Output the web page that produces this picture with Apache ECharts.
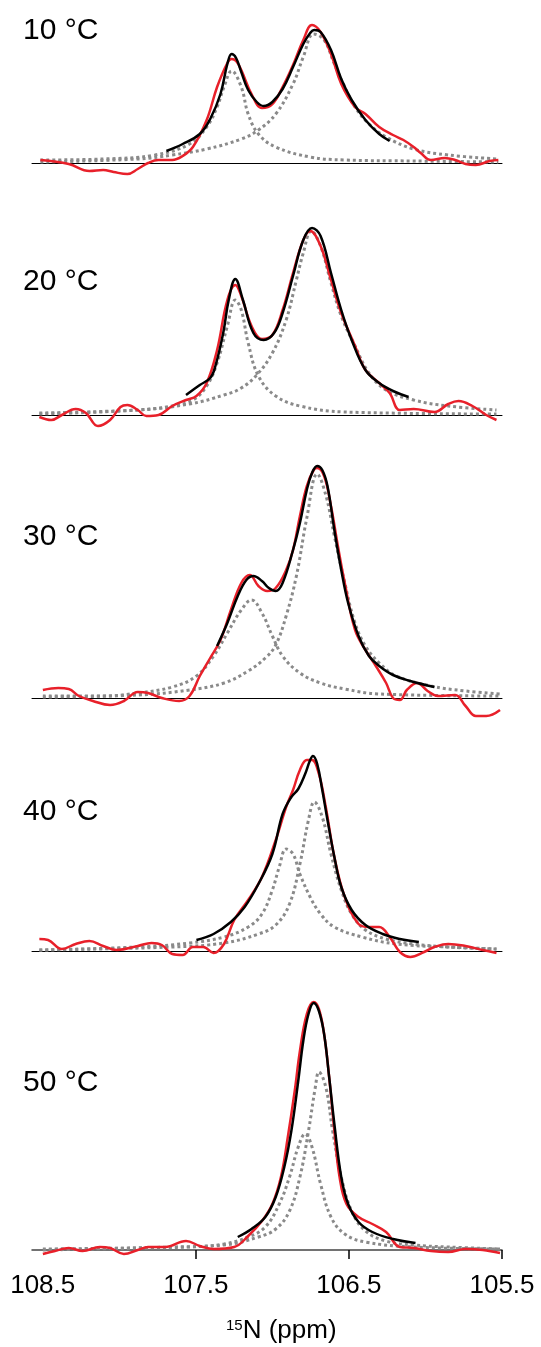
<!DOCTYPE html>
<html>
<head>
<meta charset="utf-8">
<script src="https://cdn.jsdelivr.net/npm/echarts@6/dist/echarts.min.js"></script>
<style>
  html, body { margin: 0; padding: 0; background: #fff; }
  #chart { width: 541px; height: 1347px; }
</style>
</head>
<body>
<div id="chart"></div>
<script>
// 15N spectra of one resonance at five temperatures: measured trace,
// two-Lorentzian fit and its individual components. x in ppm, y in a.u.
const temps = ['10 °C', '20 °C', '30 °C', '40 °C', '50 °C'];
const tickMarks = [107.5, 106.5, 105.5];
const tickLabels = [108.5, 107.5, 106.5, 105.5];

// ---- 10 °C ----
const exp10 = [[108.515,3],[108.330,-1],[108.195,-8],[108.105,-7],[108.037,-9],[107.947,-11],[107.879,-6],[107.812,0],[107.744,3],[107.654,3],[107.586,7],[107.519,16],[107.429,43],[107.361,76],[107.294,100],[107.266,104],[107.237,102],[107.203,93],[107.136,69],[107.068,55],[107.000,59],[106.933,76],[106.865,98],[106.798,123],[106.741,138],[106.685,131],[106.617,109],[106.550,79],[106.460,56],[106.392,49],[106.302,36],[106.212,28],[106.144,23],[106.077,16],[106.031,10],[105.964,3],[105.874,5],[105.806,3],[105.738,-1],[105.671,-2],[105.581,2],[105.524,3]];
const fit10 = [[107.692,12],[107.586,19],[107.474,29],[107.406,44],[107.339,69],[107.294,99],[107.266,109],[107.237,105],[107.203,91],[107.158,73],[107.102,61],[107.057,57],[107.000,61],[106.933,74],[106.865,96],[106.798,119],[106.753,130],[106.726,133],[106.685,131],[106.617,113],[106.550,84],[106.482,63],[106.392,43],[106.302,29],[106.234,22]];
const peakA10 = [[108.515,3],[108.105,4],[107.767,8],[107.541,19],[107.429,36],[107.361,56],[107.316,76],[107.266,92],[107.203,76],[107.158,49],[107.091,29],[106.978,16],[106.753,6],[106.527,3],[106.077,2],[105.524,1]];
const peakB10 = [[108.515,1],[107.879,4],[107.654,8],[107.429,14],[107.203,24],[107.091,33],[106.978,49],[106.865,79],[106.798,106],[106.730,129],[106.662,123],[106.595,99],[106.527,76],[106.460,56],[106.369,39],[106.257,26],[106.077,14],[105.851,8],[105.524,4]];

// ---- 20 °C ----
const exp20 = [[108.522,-2],[108.443,-5],[108.375,0],[108.285,6],[108.218,2],[108.139,-11],[108.060,-5],[107.992,8],[107.947,10],[107.879,5],[107.823,-1],[107.744,0],[107.654,9],[107.564,15],[107.496,19],[107.429,32],[107.361,65],[107.294,115],[107.242,130],[107.203,119],[107.136,89],[107.068,76],[107.000,80],[106.933,105],[106.865,142],[106.798,175],[106.753,184],[106.685,169],[106.617,135],[106.550,102],[106.460,69],[106.392,45],[106.302,32],[106.234,22],[106.167,5],[106.077,6],[105.941,3],[105.851,11],[105.784,14],[105.693,9],[105.603,0],[105.536,-5]];
const fit20 = [[107.564,20],[107.474,30],[107.406,37],[107.372,49],[107.321,82],[107.285,115],[107.242,136],[107.192,115],[107.124,82],[107.057,75],[106.989,82],[106.933,102],[106.865,139],[106.798,175],[106.741,187],[106.685,179],[106.617,142],[106.550,105],[106.482,75],[106.392,45],[106.302,32],[106.212,24],[106.110,18]];
const peakA20 = [[108.522,2],[107.879,5],[107.654,9],[107.519,15],[107.429,29],[107.361,52],[107.294,89],[107.242,115],[107.203,105],[107.158,72],[107.091,39],[106.978,19],[106.820,9],[106.527,3],[105.536,1]];
const peakB20 = [[108.522,1],[107.879,5],[107.541,11],[107.316,20],[107.203,27],[107.102,40],[107.000,62],[106.910,95],[106.843,135],[106.798,162],[106.746,184],[106.685,169],[106.617,132],[106.550,99],[106.460,69],[106.369,42],[106.257,25],[106.077,15],[105.851,9],[105.536,5]];

// ---- 30 °C ----
const exp30 = [[108.499,8],[108.398,10],[108.330,9],[108.263,2],[108.172,-3],[108.060,-7],[107.970,-3],[107.879,6],[107.812,5],[107.722,0],[107.609,-3],[107.541,2],[107.474,22],[107.406,40],[107.339,58],[107.271,88],[107.203,115],[107.147,123],[107.091,112],[107.034,107],[106.978,110],[106.910,128],[106.865,148],[106.820,182],[106.775,212],[106.730,228],[106.707,230],[106.662,222],[106.617,192],[106.572,152],[106.527,115],[106.460,68],[106.392,48],[106.324,32],[106.257,15],[106.212,0],[106.167,-2],[106.122,8],[106.054,15],[105.986,7],[105.919,2],[105.806,3],[105.738,-8],[105.671,-18],[105.603,-18],[105.513,-12]];
const fit30 = [[107.361,52],[107.294,75],[107.226,102],[107.170,118],[107.124,122],[107.068,117],[107.023,110],[106.978,107],[106.933,115],[106.865,148],[106.820,175],[106.775,208],[106.741,225],[106.707,232],[106.674,228],[106.640,212],[106.595,168],[106.550,128],[106.505,95],[106.437,62],[106.369,42],[106.302,32],[106.212,23],[106.099,17],[105.941,11]];
const peakA30 = [[108.499,2],[108.105,2],[107.879,5],[107.654,11],[107.496,22],[107.384,42],[107.294,65],[107.203,88],[107.136,98],[107.068,85],[107.000,62],[106.933,42],[106.820,25],[106.685,15],[106.527,9],[106.302,4],[105.513,2]];
const peakB30 = [[108.499,1],[107.879,3],[107.541,8],[107.316,15],[107.158,27],[107.046,40],[106.978,53],[106.910,82],[106.843,122],[106.775,180],[106.707,224],[106.651,203],[106.595,162],[106.527,115],[106.460,75],[106.392,52],[106.302,35],[106.189,22],[105.964,12],[105.738,7],[105.513,4]];

// ---- 40 °C ----
const exp40 = [[108.522,12],[108.465,11],[108.375,2],[108.285,7],[108.195,10],[108.105,5],[108.015,1],[107.879,5],[107.789,8],[107.722,6],[107.654,-3],[107.586,-4],[107.519,4],[107.451,4],[107.384,-2],[107.316,7],[107.249,31],[107.158,51],[107.068,74],[106.978,111],[106.910,144],[106.865,161],[106.820,181],[106.775,191],[106.741,191],[106.696,177],[106.651,144],[106.595,94],[106.527,54],[106.437,27],[106.369,24],[106.302,24],[106.234,14],[106.167,-1],[106.099,-6],[106.009,-1],[105.941,4],[105.851,7],[105.738,5],[105.626,1],[105.536,-2]];
const fit40 = [[107.496,11],[107.384,17],[107.271,29],[107.181,44],[107.091,67],[107.000,97],[106.933,137],[106.876,154],[106.831,162],[106.786,177],[106.753,191],[106.735,195],[106.707,187],[106.674,161],[106.640,131],[106.595,94],[106.550,64],[106.482,41],[106.392,26],[106.279,17],[106.167,12],[106.043,9]];
const peakA40 = [[108.522,1],[107.879,4],[107.541,8],[107.316,14],[107.158,24],[107.068,37],[107.000,61],[106.955,84],[106.910,102],[106.865,97],[106.820,77],[106.753,54],[106.685,37],[106.595,24],[106.414,14],[106.189,7],[105.851,4],[105.536,2]];
const peakB40 = [[108.522,1],[107.654,4],[107.316,8],[107.091,17],[106.978,26],[106.888,47],[106.820,87],[106.764,131],[106.726,149],[106.674,134],[106.617,97],[106.550,61],[106.482,37],[106.392,21],[106.257,12],[106.077,7],[105.851,4],[105.536,2]];

// ---- 50 °C ----
const exp50 = [[108.499,-4],[108.420,-1],[108.330,2],[108.240,-1],[108.127,3],[108.060,2],[107.970,-4],[107.879,0],[107.812,3],[107.699,3],[107.564,9],[107.474,4],[107.384,1],[107.249,3],[107.158,14],[107.068,29],[107.000,46],[106.944,73],[106.899,113],[106.854,159],[106.820,199],[106.775,236],[106.730,248],[106.696,241],[106.662,216],[106.629,173],[106.595,119],[106.561,73],[106.516,46],[106.437,33],[106.347,26],[106.257,18],[106.167,3],[106.077,2],[105.964,-1],[105.851,-2],[105.738,1],[105.626,0],[105.513,-3]];
const fit50 = [[107.226,13],[107.136,21],[107.046,33],[106.978,53],[106.922,83],[106.876,119],[106.831,169],[106.798,209],[106.764,236],[106.730,247],[106.696,239],[106.662,216],[106.629,173],[106.595,126],[106.550,73],[106.505,46],[106.437,28],[106.347,18],[106.212,11],[106.065,7]];
const peakA50 = [[108.499,1],[107.879,2],[107.541,3],[107.316,6],[107.158,13],[107.046,23],[106.955,46],[106.888,73],[106.831,103],[106.786,116],[106.741,103],[106.685,66],[106.617,33],[106.527,16],[106.392,8],[106.077,3],[105.513,1]];
const peakB50 = [[108.499,0],[107.654,3],[107.316,5],[107.091,13],[106.978,21],[106.888,39],[106.820,73],[106.764,119],[106.719,163],[106.696,178],[106.651,163],[106.606,119],[106.550,73],[106.482,39],[106.392,19],[106.257,9],[106.077,5],[105.851,3],[105.513,1]];

const panels = [
  { exp: exp10, fit: fit10, a: peakA10, b: peakB10 },
  { exp: exp20, fit: fit20, a: peakA20, b: peakB20 },
  { exp: exp30, fit: fit30, a: peakA30, b: peakB30 },
  { exp: exp40, fit: fit40, a: peakA40, b: peakB40 },
  { exp: exp50, fit: fit50, a: peakA50, b: peakB50 }
];

// layout: zero line of each stacked panel (px); 1 unit = 1 px vertically
const FONT = '"Liberation Sans", Arial, Helvetica, sans-serif';
const zeroY = [163, 415, 698, 951, 1250];
const labelTop = [16, 267, 522, 797, 1068];
const last = panels.length - 1;

const grids = [], xAxes = [], yAxes = [], series = [], graphics = [];
panels.forEach((p, i) => {
  // the bottom panel keeps its zero line on the grid edge so the
  // tick labels sit right under it
  const yMin = i === last ? -6 : -30;
  const top = Math.max(0, zeroY[i] - 250);
  const yMax = zeroY[i] - top;
  grids.push({ left: 32, right: 39, top: top, height: yMax - yMin });
  xAxes.push({
    gridIndex: i, type: 'value', inverse: true, min: 105.5, max: 108.57,
    axisLine: { show: true, onZero: true,
      lineStyle: { color: i === last ? '#444' : '#000', width: i === last ? 1.5 : 1 } },
    axisTick: { show: i === last, customValues: tickMarks, length: 9,
      lineStyle: { color: '#000', width: 1.5 } },
    axisLabel: { show: i === last, customValues: tickLabels, margin: 17,
      fontSize: 26, color: '#000', fontFamily: FONT,
      formatter: v => v.toFixed(1), showMinLabel: true, showMaxLabel: true },
    splitLine: { show: false }
  });
  yAxes.push({ gridIndex: i, type: 'value', min: yMin, max: yMax, show: false });

  const dotted = { color: '#8a8a8a', width: 3, type: [3, 3], cap: 'butt' };
  [p.a, p.b].forEach(d => series.push({
    type: 'line', xAxisIndex: i, yAxisIndex: i, data: d, symbol: 'none',
    smooth: 0.4, lineStyle: dotted, silent: true, clip: false, z: 1
  }));
  series.push({
    type: 'line', xAxisIndex: i, yAxisIndex: i, data: p.exp, symbol: 'none',
    smooth: 0.4, lineStyle: { color: '#e8202a', width: 2.5 }, silent: true, clip: false, z: 2
  });
  series.push({
    type: 'line', xAxisIndex: i, yAxisIndex: i, data: p.fit, symbol: 'none',
    smooth: 0.4, lineStyle: { color: '#000', width: 2.5 }, silent: true, clip: false, z: 3
  });

  graphics.push({
    type: 'text', left: 23, top: labelTop[i],
    style: { text: temps[i], fontSize: 30, fontFamily: FONT, fill: '#000' }
  });
});

graphics.push({
  type: 'text', left: 226, top: 1318,
  style: {
    text: '{sup|15}N (ppm)', fontSize: 26, fontFamily: FONT, fill: '#000',
    rich: { sup: { fontSize: 15, fontFamily: FONT, verticalAlign: 'top', fill: '#000' } }
  }
});

const chart = echarts.init(document.getElementById('chart'), null, { renderer: 'canvas' });
chart.setOption({
  animation: false,
  backgroundColor: '#fff',
  grid: grids,
  xAxis: xAxes,
  yAxis: yAxes,
  series: series,
  graphic: graphics
});
</script>
</body>
</html>
